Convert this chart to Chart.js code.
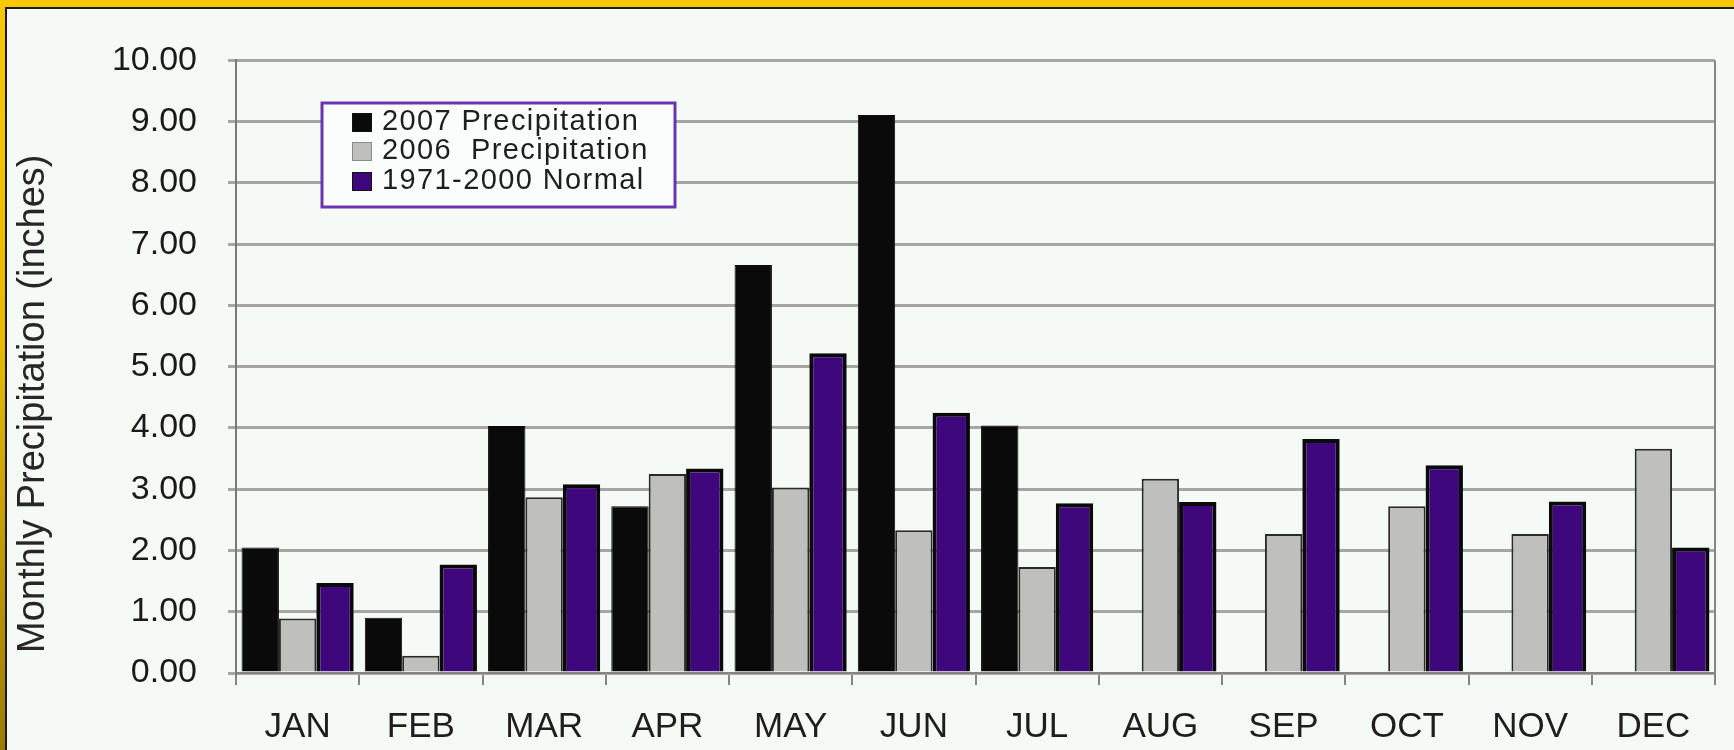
<!DOCTYPE html>
<html>
<head>
<meta charset="utf-8">
<script src="https://cdn.jsdelivr.net/npm/chart.js@4/dist/chart.umd.min.js"></script>
<style>
  html, body { margin: 0; padding: 0; }
  #frame {
    position: relative; width: 1734px; height: 750px; overflow: hidden;
    background: linear-gradient(to bottom, #f8c800 0%, #e9bb00 45%, #9c7c00 100%);
  }
  #inner {
    position: absolute; left: 5px; top: 7px; width: 1729px; height: 743px;
    border-top: 2px solid #1a1a1a; border-left: 2px solid #1a1a1a;
    background: #f5faf7;
  }
  #chart { display: block; }
</style>
</head>
<body>
<div id="frame"><div id="inner"><canvas id="chart" width="1727" height="741"></canvas></div></div>
<script>
// dados do gráfico
const months = ['JAN', 'FEB', 'MAR', 'APR', 'MAY', 'JUN', 'JUL', 'AUG', 'SEP', 'OCT', 'NOV', 'DEC'];
const precip2007 = [2.05, 0.90, 4.03, 2.72, 6.66, 9.11, 4.04, null, null, null, null, null];
const precip2006 = [0.89, 0.28, 2.87, 3.25, 3.03, 2.33, 1.73, 3.17, 2.27, 2.72, 2.27, 3.66];
const normal7100 = [1.47, 1.77, 3.08, 3.34, 5.22, 4.25, 2.77, 2.79, 3.82, 3.39, 2.80, 2.05];
const seriesNames = ['2007 Precipitation', '2006  Precipitation', '1971-2000 Normal'];
const yTitle = 'Monthly Precipitation (inches)';

const FONT = "'Liberation Sans', Arial, sans-serif";

// legenda em caixa dentro da área do gráfico
const boxLegend = {
    id: 'boxLegend',
    afterDraw(chart) {
        const ctx = chart.ctx;
        const x0 = 315, y0 = 94, w = 353, h = 104;
        ctx.save();
        ctx.fillStyle = '#fbfdfc';
        ctx.fillRect(x0, y0, w, h);
        ctx.strokeStyle = '#6a35b0';
        ctx.lineWidth = 3;
        ctx.strokeRect(x0, y0, w, h);
        ctx.font = '29px ' + FONT;
        ctx.letterSpacing = '1.4px';
        ctx.textBaseline = 'middle';
        ctx.textAlign = 'left';
        const rows = [112, 141, 171];
        chart.data.datasets.forEach((ds, i) => {
            const cy = rows[i];
            ctx.fillStyle = ds.backgroundColor;
            ctx.fillRect(345, cy - 8, 20, 19);
            ctx.strokeStyle = i === 1 ? '#8a8a8a' : '#111';
            ctx.lineWidth = 1;
            ctx.strokeRect(345.5, cy - 7.5, 19, 18);
            ctx.fillStyle = '#1e1e1e';
            ctx.fillText(ds.label, 375, cy + 1);
        });
        ctx.restore();
    }
};

// borda direita da área de plotagem + título do eixo y (deslocado para baixo como no original)
const plotFrame = {
    id: 'plotFrame',
    afterDatasetsDraw(chart) {
        const { ctx, chartArea } = chart;
        ctx.save();
        ctx.strokeStyle = '#858585';
        ctx.lineWidth = 2;
        ctx.beginPath();
        ctx.moveTo(chartArea.right, chartArea.top);
        ctx.lineTo(chartArea.right, chartArea.bottom + 12);
        ctx.stroke();

        ctx.translate(27, chartArea.top + (chartArea.bottom - chartArea.top) / 2 + 37);
        ctx.rotate(-Math.PI / 2);
        ctx.font = '38px ' + FONT;
        ctx.fillStyle = '#262626';
        ctx.textAlign = 'center';
        ctx.textBaseline = 'middle';
        ctx.fillText(yTitle, 0, 0);
        ctx.restore();
    }
};

new Chart(document.getElementById('chart').getContext('2d'), {
    type: 'bar',
    data: {
        labels: months,
        datasets: [{
            label: seriesNames[0],
            data: precip2007,
            backgroundColor: '#0a0a0a',
            borderColor: '#0a0a0a',
            borderWidth: 1
        }, {
            label: seriesNames[1],
            data: precip2006,
            backgroundColor: '#bfc0bd',
            borderColor: '#2a2a2a',
            borderWidth: 2
        }, {
            label: seriesNames[2],
            data: normal7100,
            backgroundColor: '#3e087c',
            borderColor: '#0a0a0a',
            borderWidth: 4
        }]
    },
    options: {
        responsive: false,
        animation: false,
        layout: { padding: { left: 0, right: 19, top: 48, bottom: 0 } },
        datasets: { bar: { categoryPercentage: 0.91, barPercentage: 1.0, borderSkipped: 'start' } },
        plugins: { legend: { display: false }, tooltip: { enabled: false } },
        scales: {
            x: {
                grid: { drawOnChartArea: false, drawTicks: true, tickLength: 12, color: '#858585', lineWidth: 2, offset: true },
                border: { display: true, color: '#858585', width: 2 },
                ticks: { color: '#1e1e1e', font: { family: FONT, size: 35 }, padding: 21, maxRotation: 0 },
                afterFit(scale) { scale.height = 77; }
            },
            y: {
                min: 0,
                max: 10,
                ticks: {
                    stepSize: 1,
                    color: '#1a1a1a',
                    font: { family: FONT, size: 34 },
                    padding: 31,
                    callback: v => v.toFixed(2)
                },
                grid: { color: '#a6a6a6', lineWidth: 3, tickLength: 8 },
                border: { display: true, color: '#7a7a7a', width: 2 },
                afterFit(scale) { scale.width = 229; }
            }
        }
    },
    plugins: [plotFrame, boxLegend]
});
</script>
</body>
</html>
